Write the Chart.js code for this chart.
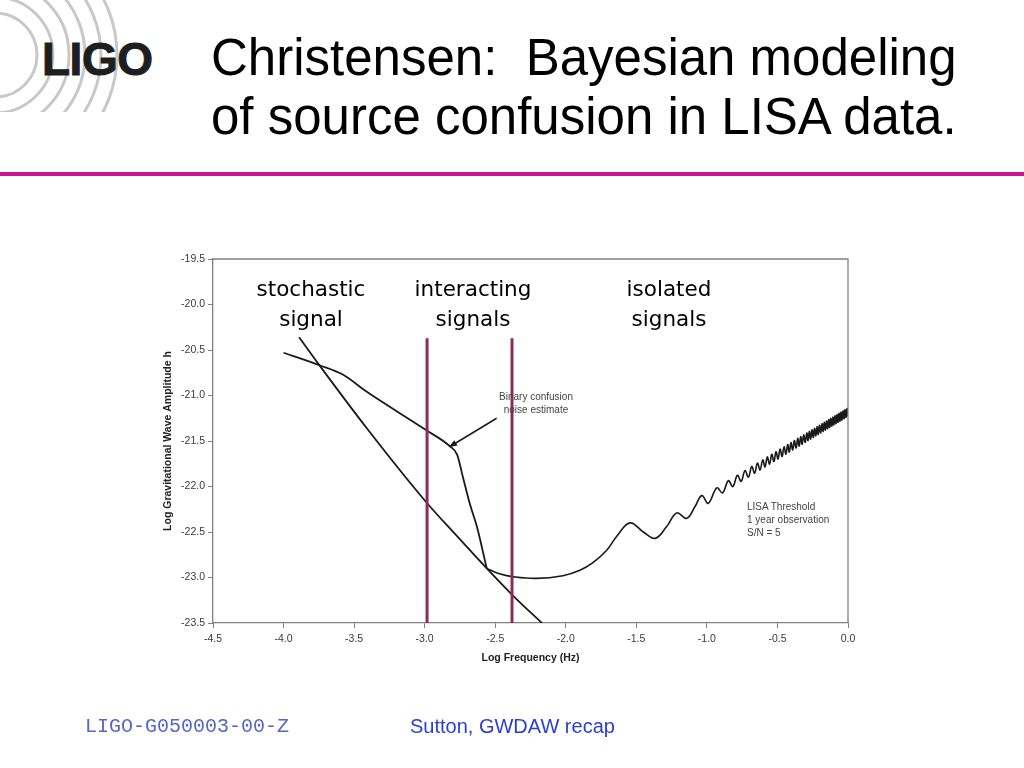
<!DOCTYPE html>
<html>
<head>
<meta charset="utf-8">
<script src="https://cdn.jsdelivr.net/npm/chart.js@4.4.1/dist/chart.umd.min.js"></script>
<style>
  body { margin: 0; width: 1024px; height: 768px; background: #fff; position: relative; overflow: hidden; font-family: "Liberation Sans", Arial, sans-serif; }
  #chart { position: absolute; left: 0; top: 0; }
  .abs { position: absolute; white-space: nowrap; }
  .title { left: 211px; font-size: 51px; color: #000; line-height: 59px; top: 28px; }
  .rule { left: 0; top: 172px; width: 1024px; height: 4px; background: #cc1496; }
  .zone { font-family: "DejaVu Sans", sans-serif; font-size: 21.5px; line-height: 30px; text-align: center; color: #000; transform: translateX(-50%); top: 274px; }
  .note { font-size: 10px; line-height: 13px; color: #444; }
</style>
</head>
<body>
<svg class="abs" style="left:0;top:0" width="125" height="112">
  <g fill="none" stroke="#c8c8c8" stroke-width="3">
    <circle cx="-5" cy="55" r="42"/>
    <circle cx="-5" cy="55" r="58"/>
    <circle cx="-5" cy="55" r="74"/>
    <circle cx="-5" cy="55" r="90"/>
    <circle cx="-5" cy="55" r="106"/>
    <circle cx="-5" cy="55" r="122"/>
  </g>
</svg>
<div class="abs" style="left:42px;top:32px;font-weight:bold;font-size:46px;color:#1e1e1e;letter-spacing:-0.5px;-webkit-text-stroke:1px #1e1e1e;">LIGO</div>
<div class="abs title">Christensen:&nbsp; Bayesian modeling<br>of source confusion in LISA data.</div>
<div class="abs rule"></div>

<canvas id="chart" width="1024" height="768"></canvas>

<div class="abs zone" style="left:311px;">stochastic<br>signal</div>
<div class="abs zone" style="left:473px;">interacting<br>signals</div>
<div class="abs zone" style="left:669px;">isolated<br>signals</div>
<div class="abs note" style="left:536px;top:390px;transform:translateX(-50%);text-align:center;">Binary confusion<br>noise estimate</div>
<div class="abs note" style="left:747px;top:500px;">LISA Threshold<br>1 year observation<br>S/N = 5</div>

<div class="abs" style="left:85px;top:715px;font-family:'Liberation Mono',monospace;font-size:20px;color:#5566c4;">LIGO-G050003-00-Z</div>
<div class="abs" style="left:410px;top:715px;font-size:20px;color:#2a3ed2;">Sutton, GWDAW recap</div>

<script>
// axis ranges
const xMin = -4.5, xMax = 0.0, xStep = 0.5;
const yMin = -23.5, yMax = -19.5, yStep = 0.5;

// steep line from the upper left (labelled stochastic signal)
const stochX = [-3.89, -3.74, -3.41, -2.99, -2.78, -2.56, -2.38, -2.17];
const stochY = [-20.36, -20.68, -21.36, -22.17, -22.53, -22.90, -23.19, -23.50];

// binary confusion noise estimate
const binaryX = [-4.00, -3.74, -3.58, -3.41, -2.99, -2.82, -2.77, -2.73, -2.68, -2.63, -2.56];
const binaryY = [-20.53, -20.67, -20.77, -20.96, -21.38, -21.56, -21.65, -21.89, -22.19, -22.44, -22.90];

// LISA threshold, bucket and first bumps
const threshX = [-2.56, -2.47, -2.38, -2.21, -2.02, -1.90, -1.81, -1.71, -1.64, -1.545, -1.45, -1.367,
                 -1.285, -1.214, -1.143, -1.084, -1.036, -0.99];
const threshY = [-22.90, -22.96, -22.99, -23.01, -22.98, -22.92, -22.84, -22.70, -22.55, -22.40, -22.50, -22.57,
                 -22.44, -22.29, -22.35, -22.22, -22.10, -22.185];

// LISA threshold, fast ripples (alternating peak / trough)
const rippleX = [-0.930, -0.889, -0.848, -0.816, -0.784, -0.757, -0.730, -0.706, -0.682, -0.662,
                 -0.642, -0.623, -0.604, -0.588, -0.572, -0.556, -0.540, -0.525, -0.510, -0.496,
                 -0.481, -0.467, -0.453, -0.440, -0.427, -0.416, -0.404, -0.392, -0.380, -0.368,
                 -0.356, -0.346, -0.335, -0.325, -0.314, -0.303, -0.292, -0.283, -0.274, -0.265,
                 -0.255, -0.246, -0.237, -0.228, -0.219, -0.211, -0.202, -0.193, -0.184, -0.176,
                 -0.168, -0.160, -0.152, -0.144, -0.136, -0.129, -0.122, -0.114, -0.107, -0.100,
                 -0.092, -0.085, -0.078, -0.071, -0.064, -0.057, -0.050, -0.043, -0.035, -0.028,
                 -0.021, -0.014, -0.007, 0.000];
const rippleY = [-22.015, -22.070, -21.937, -22.000, -21.877, -21.944, -21.826, -21.896, -21.780, -21.854,
                 -21.743, -21.818, -21.707, -21.785, -21.676, -21.754, -21.646, -21.725, -21.618, -21.698,
                 -21.590, -21.670, -21.564, -21.645, -21.539, -21.622, -21.518, -21.599, -21.495, -21.577,
                 -21.472, -21.556, -21.452, -21.536, -21.433, -21.515, -21.412, -21.496, -21.395, -21.479,
                 -21.377, -21.461, -21.360, -21.444, -21.343, -21.428, -21.327, -21.411, -21.310, -21.395,
                 -21.295, -21.380, -21.280, -21.365, -21.264, -21.351, -21.251, -21.337, -21.237, -21.323,
                 -21.223, -21.309, -21.210, -21.296, -21.196, -21.283, -21.183, -21.270, -21.169, -21.255,
                 -21.156, -21.242, -21.143, -21.229];

// region boundaries (magenta verticals)
const boundaryX = [-2.983, -2.381];
const boundaryTop = -20.37;

// arrow pointing at the knee of the confusion curve
const arrowFrom = [-2.49, -21.25];
const arrowTo = [-2.83, -21.57];

function pts(xs, ys) {
  return xs.map((x, i) => ({ x: x, y: ys[i] }));
}

const curveStyle = {
  borderColor: '#1a1a1a',
  borderWidth: 1.8,
  pointRadius: 0,
  fill: false,
  cubicInterpolationMode: 'monotone'
};

const datasets = boundaryX.map(bx => ({
  data: [{ x: bx, y: boundaryTop }, { x: bx, y: yMin }],
  borderColor: '#8e2a5c',
  borderWidth: 3,
  pointRadius: 0,
  fill: false
}));
datasets.push({ ...curveStyle, data: pts(stochX, stochY) });
datasets.push({ ...curveStyle, data: pts(binaryX, binaryY) });
// the ripples look like a sine, so plain bezier tension instead of monotone
datasets.push({ ...curveStyle, cubicInterpolationMode: 'default', tension: 0.4, borderWidth: 1.6,
                data: pts(threshX.concat(rippleX), threshY.concat(rippleY)) });

// top and right edges of the frame, plus the arrow annotation
const framePlugin = {
  id: 'frame',
  afterDraw(chart) {
    const { ctx, chartArea: a, scales } = chart;
    ctx.save();
    ctx.strokeStyle = '#808080';
    ctx.lineWidth = 1.3;
    ctx.beginPath();
    ctx.moveTo(a.left, a.top);
    ctx.lineTo(a.right, a.top);
    ctx.lineTo(a.right, a.bottom);
    ctx.stroke();

    const x1 = scales.x.getPixelForValue(arrowFrom[0]), y1 = scales.y.getPixelForValue(arrowFrom[1]);
    const x2 = scales.x.getPixelForValue(arrowTo[0]), y2 = scales.y.getPixelForValue(arrowTo[1]);
    const ang = Math.atan2(y2 - y1, x2 - x1);
    ctx.strokeStyle = '#1a1a1a';
    ctx.fillStyle = '#1a1a1a';
    ctx.lineWidth = 1.5;
    ctx.beginPath();
    ctx.moveTo(x1, y1);
    ctx.lineTo(x2 - 6 * Math.cos(ang), y2 - 6 * Math.sin(ang));
    ctx.stroke();
    ctx.beginPath();
    ctx.moveTo(x2, y2);
    ctx.lineTo(x2 - 9 * Math.cos(ang - 0.35), y2 - 9 * Math.sin(ang - 0.35));
    ctx.lineTo(x2 - 9 * Math.cos(ang + 0.35), y2 - 9 * Math.sin(ang + 0.35));
    ctx.closePath();
    ctx.fill();
    ctx.restore();
  }
};

const tickFont = { family: 'Liberation Sans', size: 10.5 };
const axisTitleFont = { family: 'Liberation Sans', size: 10.5, weight: 'bold' };

new Chart(document.getElementById('chart'), {
  type: 'line',
  data: { datasets: datasets },
  options: {
    responsive: false,
    animation: false,
    events: [],
    layout: { padding: { left: 158, right: 176, top: 259, bottom: 100 } },
    plugins: { legend: { display: false }, tooltip: { enabled: false } },
    scales: {
      x: {
        type: 'linear', min: xMin, max: xMax,
        ticks: { stepSize: xStep, color: '#3a3a3a', font: tickFont, padding: 5,
                 callback: v => v.toFixed(1), maxRotation: 0 },
        grid: { drawOnChartArea: false, color: '#808080', tickLength: 5 },
        border: { color: '#808080', width: 1.3 },
        title: { display: true, text: 'Log Frequency (Hz)', color: '#222', font: axisTitleFont },
        afterFit: s => { s.height = 45; }
      },
      y: {
        type: 'linear', min: yMin, max: yMax,
        ticks: { stepSize: yStep, color: '#3a3a3a', font: tickFont, padding: 3,
                 callback: v => v.toFixed(1) },
        grid: { drawOnChartArea: false, color: '#808080', tickLength: 5 },
        border: { color: '#808080', width: 1.3 },
        title: { display: true, text: 'Log Gravitational Wave Amplitude h', color: '#222', font: axisTitleFont },
        afterFit: s => { s.width = 55; }
      }
    }
  },
  plugins: [framePlugin]
});
</script>
</body>
</html>
